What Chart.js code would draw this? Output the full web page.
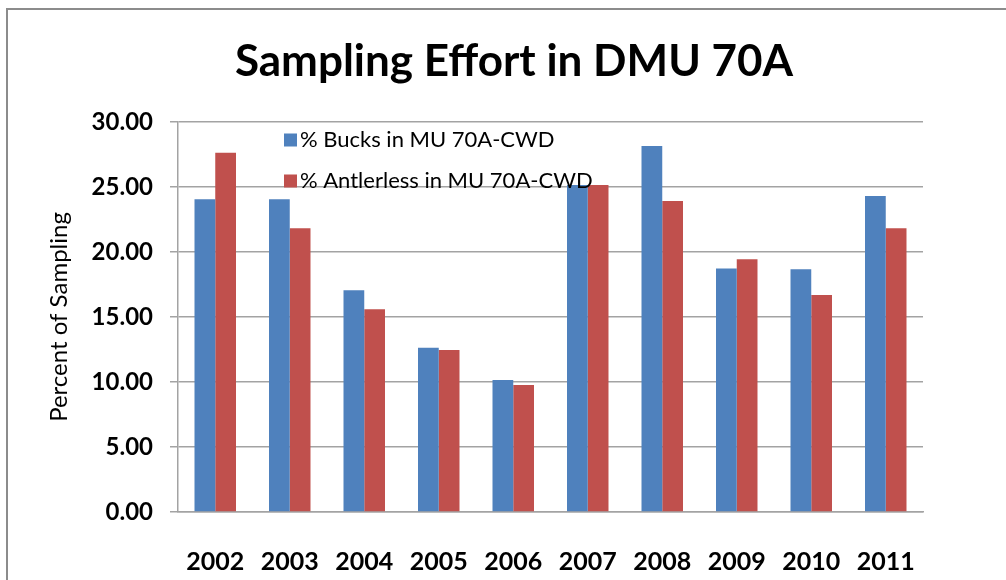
<!DOCTYPE html>
<html>
<head>
<meta charset="utf-8">
<script src="https://cdn.jsdelivr.net/npm/chart.js@4/dist/chart.umd.min.js"></script>
<style>
  html, body { margin: 0; padding: 0; background: #fff; overflow: hidden; }
  #wrap { position: relative; width: 1006px; height: 580px; }
  #frame { position: absolute; left: 6px; top: 8px; width: 1100px; height: 700px;
           border-left: 2px solid #8c8c8c; border-top: 2px solid #8c8c8c; pointer-events: none; }
  canvas { position: absolute; left: 0; top: 0; }
</style>
</head>
<body>
<div id="wrap">
  <canvas id="chart" width="1006" height="580"></canvas>
  <div id="frame"></div>
</div>
<script>
const years = ["2002", "2003", "2004", "2005", "2006", "2007", "2008", "2009", "2010", "2011"];
const bucks = [24.05, 24.05, 17.05, 12.64, 10.15, 25.15, 28.15, 18.74, 18.67, 24.3];
const antlerless = [27.64, 21.82, 15.59, 12.46, 9.77, 25.15, 23.92, 19.44, 16.69, 21.82];
const seriesNames = ["% Bucks in MU 70A-CWD", "% Antlerless in MU 70A-CWD"];
const seriesColors = ["#4F81BD", "#C0504D"];

const FONT = "Lato, 'Open Sans', sans-serif";
const gridGray = "#a3a3a3";

// legend drawn inside the plot area, on top of the bars (like the Excel original)
const innerLegend = {
  id: "innerLegend",
  afterDatasetsDraw(chart) {
    const { ctx, chartArea } = chart;
    const x0 = chartArea.left + 106;
    ctx.save();
    ctx.font = "22px " + FONT;
    ctx.textBaseline = "middle";
    ctx.textAlign = "left";
    chart.data.datasets.forEach((ds, i) => {
      const cy = chartArea.top + 18 + i * 41;
      ctx.fillStyle = ds.backgroundColor;
      ctx.fillRect(x0, cy - 6.5, 13, 13);
      ctx.fillStyle = "#000";
      ctx.fillText(ds.label, x0 + 16, cy);
    });
    ctx.restore();
  }
};

new Chart(document.getElementById("chart"), {
  type: "bar",
  data: {
    labels: years,
    datasets: [
      { label: seriesNames[0], data: bucks, backgroundColor: seriesColors[0] },
      { label: seriesNames[1], data: antlerless, backgroundColor: seriesColors[1] }
    ]
  },
  options: {
    responsive: false,
    animation: false,
    events: [],
    datasets: { bar: { categoryPercentage: 0.557, barPercentage: 1 } },
    layout: { padding: { left: 22, right: 0, top: 0, bottom: 0 } },
    plugins: {
      legend: { display: false },
      tooltip: { enabled: false },
      title: {
        display: true,
        text: "Sampling Effort in DMU 70A",
        color: "#000",
        font: { family: FONT, size: 44, weight: "bold", lineHeight: 1.2 },
        padding: { top: 35, bottom: 34.2 }
      }
    },
    scales: {
      x: {
        grid: { display: false },
        border: { display: true, color: gridGray, width: 1.5 },
        ticks: { color: "#000", padding: 27, font: { family: FONT, size: 25, weight: "bold" } },
        afterFit(scale) { scale.height = 68; }
      },
      y: {
        min: 0,
        max: 30,
        ticks: {
          stepSize: 5,
          color: "#000",
          padding: 17,
          font: { family: FONT, size: 24, weight: "bold" },
          callback: (v) => Number(v).toFixed(2)
        },
        grid: { color: gridGray, lineWidth: 1.5, tickLength: 8 },
        border: { display: true, color: gridGray, width: 1.5 },
        title: {
          display: true,
          text: "Percent of Sampling",
          color: "#000",
          font: { family: FONT, size: 24, lineHeight: 1.2 },
          padding: { top: 22.6, bottom: 0 }
        },
        afterFit(scale) { scale.width = 156; }
      },
      // empty right-hand axis: keeps the plot's right margin so the title centres like the original
      yRight: {
        position: "right",
        display: true,
        grid: { display: false },
        border: { display: false },
        ticks: { display: false },
        afterFit(scale) { scale.width = 83; }
      }
    }
  },
  plugins: [innerLegend]
});
</script>
</body>
</html>
